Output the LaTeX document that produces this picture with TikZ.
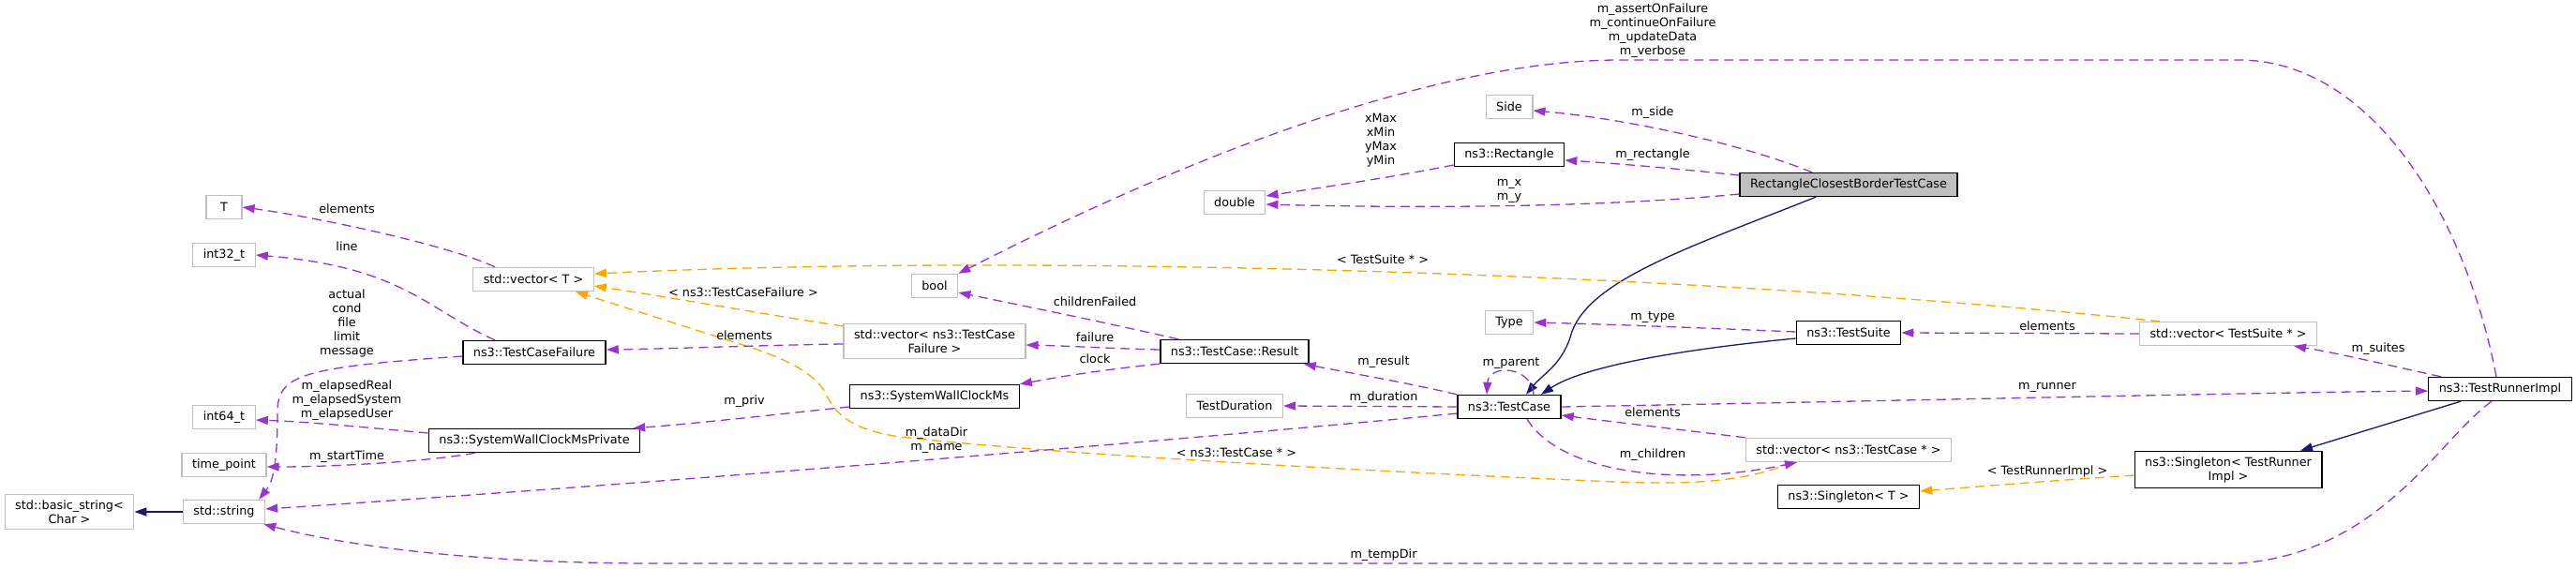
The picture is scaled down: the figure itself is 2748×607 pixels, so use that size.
\documentclass[tikz,border=0pt]{standalone}
\usepackage{fontspec}
\setmainfont{DejaVu Sans}
\usetikzlibrary{arrows.meta}

\definecolor{usecol}{HTML}{9A32CD}
\definecolor{tplcol}{HTML}{FFA500}
\definecolor{inhcol}{HTML}{191970}
\definecolor{extcol}{HTML}{BFBFBF}

\tikzset{
 box/.style={rectangle, draw=black, fill=white, line width=1.3pt, inner xsep=11pt, inner ysep=6pt, minimum height=25pt, align=center, font=\fontsize{12.8}{15}\selectfont},
 extbox/.style={box, draw=extcol},
 selfbox/.style={box, fill=extcol},
 lbl/.style={inner sep=0pt, align=center, font=\fontsize{12.8}{15}\selectfont},
 usage/.style={usecol, line width=1.3pt, dash pattern=on 10pt off 6pt, -{Triangle[length=13pt,width=9pt]}},
 tmpl/.style={usage, tplcol},
 inherit/.style={inhcol, line width=1.3pt, -{Triangle[length=13pt,width=9pt]}}
}

\begin{document}
\begin{tikzpicture}[x=1pt,y=-1pt]
 \useasboundingbox (0,0) rectangle (2748,607);
 \node[extbox] (bstr) at (74,546) {std::basic\_string<\\Char >}; %基底
 \node[extbox] (str) at (239,546) {std::string};
 \node[extbox] (tpt) at (239,496) {time\_point};
 \node[extbox] (i64) at (239,445) {int64\_t};
 \node[extbox] (i32) at (239,272) {int32\_t};
 \node[extbox, minimum width=38pt] (tT) at (239,221) {T};
 \node[extbox] (vecT) at (569,298) {std::vector< T >}; %テンプレート
 \node[box] (tcf) at (570,376) {ns3::TestCaseFailure};
 \node[box] (swcp) at (570,470) {ns3::SystemWallClockMsPrivate};
 \node[extbox] (bool) at (997,305) {bool};
 \node[extbox] (vecF) at (997,364) {std::vector< ns3::TestCase\\Failure >};
 \node[box] (swc) at (997,423) {ns3::SystemWallClockMs};
 \node[extbox] (dbl) at (1317,216) {double};
 \node[box] (res) at (1317,375) {ns3::TestCase::Result};
 \node[extbox] (dur) at (1317,433) {TestDuration};
 \node[extbox] (side) at (1610,114) {Side};
 \node[box] (rect) at (1610,165) {ns3::Rectangle};
 \node[extbox] (type) at (1610,344) {Type};
 \node[box] (tc) at (1610,434) {ns3::TestCase};
 \node[selfbox] (main) at (1972,197) {RectangleClosestBorderTestCase}; %本体
 \node[box] (suite) at (1972,355) {ns3::TestSuite};
 \node[extbox] (vecC) at (1972,480) {std::vector< ns3::TestCase * >};
 \node[box] (sglT) at (1972,530) {ns3::Singleton< T >};
 \node[extbox] (vecS) at (2377,356) {std::vector< TestSuite * >};
 \node[box] (sglR) at (2377,501) {ns3::Singleton< TestRunner\\Impl >};
 \node[box] (runner) at (2667,415) {ns3::TestRunnerImpl};

 % 継承
 \draw[inherit] (str.west) -- (bstr.east);
 \draw[inherit] ([xshift=-35pt]main.south) .. controls (1800,265) and (1690,300) .. (1675,360) .. controls (1665,390) and (1645,400) .. ([xshift=18pt]tc.north);
 \draw[inherit] ([yshift=-6pt]suite.west) .. controls (1800,372) and (1690,390) .. ([xshift=34pt]tc.north);
 \draw[inherit] ([xshift=-42pt]runner.south) -- ([xshift=77pt]sglR.north);

 % テンプレート
 \draw[tmpl] ([yshift=16pt]vecF.west) .. controls (820,336) and (720,318) .. ([yshift=-7pt]vecT.east);
 \draw[tmpl] ([xshift=-73pt]vecS.north) .. controls (1800,290) and (1100,270) .. ([yshift=6pt]vecT.east);
 \draw[tmpl] ([xshift=-60pt]vecC.south) .. controls (1860,515) and (1800,518) .. (1700,513) .. controls (1400,500) and (1100,482) .. (960,466) .. controls (905,458) and (890,440) .. (880,418) .. controls (868,398) and (840,384) .. (805,372) -- ([xshift=45pt]vecT.south);
 \draw[tmpl] ([yshift=-6pt]sglR.west) .. controls (2200,512) and (2110,519) .. ([yshift=6pt]sglT.east);

 % 使用
 \draw[usage] ([xshift=-41pt]vecT.north) .. controls (480,262) and (340,232) .. (tT.east);
 \draw[usage] ([xshift=-42pt]tcf.north) .. controls (455,330) and (430,285) .. (i32.east);
 \draw[usage] ([yshift=-4pt]tcf.west) .. controls (320,392) and (296,400) .. (296,440) .. controls (296,500) and (290,515) .. ([xshift=-7pt]str.north east);
 \draw[usage] ([yshift=8pt]swcp.west) .. controls (390,456) and (330,450) .. ([yshift=-3pt]i64.east);
 \draw[usage] ([xshift=-63pt]swcp.south) .. controls (460,492) and (360,498) .. ([yshift=-2pt]tpt.east);
 \draw[usage] ([yshift=-3pt]vecF.west) .. controls (820,368) and (720,372) .. ([yshift=3pt]tcf.east);
 \draw[usage] ([yshift=-11pt]swc.west) .. controls (820,443) and (740,452) .. ([xshift=-8pt]swcp.north east);
 \draw[usage] ([xshift=-60pt]res.north) .. controls (1170,342) and (1100,328) .. ([yshift=-7pt]bool.east);
 \draw[usage] ([yshift=2pt]res.west) .. controls (1190,372) and (1140,369) .. ([yshift=-4pt]vecF.east);
 \draw[usage] (res.south west) .. controls (1190,393) and (1140,400) .. (swc.north east);
 \draw[usage] (tc.north west) .. controls (1500,408) and (1440,398) .. ([xshift=-6pt]res.south east);
 \draw[usage] (tc.west) -- (dur.east);
 \draw[usage] ([yshift=-7pt]tc.west) .. controls (1300,466) and (700,516) .. ([yshift=3pt]str.east);
 \draw[usage] ([xshift=26pt]tc.north) .. controls (1634,390) and (1588,388) .. ([xshift=-24pt]tc.north);
 \draw[usage] (tc.east) .. controls (2000,428) and (2400,419) .. ([yshift=-2pt]runner.west);
 \draw[usage] (vecC.north west) .. controls (1790,458) and (1720,450) .. ([yshift=-9pt]tc.east);
 \draw[usage] ([xshift=19pt]tc.south) .. controls (1665,505) and (1790,520) .. ([xshift=-55pt]vecC.south);
 \draw[usage] ([yshift=1pt]suite.west) .. controls (1820,350) and (1720,346) .. (type.east);
 \draw[usage] (vecS.west) -- (suite.east);
 \draw[usage] ([xshift=-63pt]runner.north) .. controls (2550,390) and (2490,376) .. ([xshift=70pt]vecS.south);
 \draw[usage] ([xshift=-4pt]runner.north) .. controls (2630,230) and (2530,64) .. (2388,64) -- (1728,64) .. controls (1550,64) and (1300,150) .. (bool.north east);
 \draw[usage] ([xshift=-9pt]runner.south) .. controls (2600,470) and (2540,590) .. (2388,601) -- (700,601) .. controls (520,601) and (380,585) .. ([xshift=-2pt]str.south east);
 \draw[usage] ([xshift=-39pt]main.north) .. controls (1850,150) and (1720,125) .. ([yshift=-4pt]side.east);
 \draw[usage] ([yshift=10pt]main.west) .. controls (1790,180) and (1720,174) .. ([yshift=-6pt]rect.east);
 \draw[usage] ([yshift=-10pt]main.west) .. controls (1700,222) and (1500,222) .. ([yshift=-2pt]dbl.east);
 \draw[usage] ([yshift=-11pt]rect.west) .. controls (1480,190) and (1410,200) .. ([yshift=7pt]dbl.east);

 % ラベル
 \node[lbl] (lElemT) at (370,223) {elements};
 \node[lbl] (lLine) at (370,263) {line};
 \node[lbl] (lFail) at (370,345) {actual\\cond\\file\\limit\\message};
 \node[lbl] (lElapsed) at (370,427) {m\_elapsedReal\\m\_elapsedSystem\\m\_elapsedUser};
 \node[lbl] (lStart) at (370,487) {m\_startTime};
 \node[lbl] (lTplF) at (793,312) {< ns3::TestCaseFailure >};
 \node[lbl] (lElemF) at (794,358) {elements};
 \node[lbl] (lPriv) at (794,428) {m\_priv};
 \node[lbl] (lDir) at (999,470) {m\_dataDir\\m\_name};
 \node[lbl] (lChild) at (1168,322) {childrenFailed};
 \node[lbl] (lFailure) at (1168,360) {failure};
 \node[lbl] (lClock) at (1168,383) {clock};
 \node[lbl] (lMinMax) at (1473,150) {xMax\\xMin\\yMax\\yMin};
 \node[lbl] (lXY) at (1610,204) {m\_x\\m\_y};
 \node[lbl] (lTplS) at (1475,277) {< TestSuite * >};
 \node[lbl] (lResult) at (1476,386) {m\_result};
 \node[lbl] (lDur) at (1476,424) {m\_duration};
 \node[lbl] (lTplC) at (1319,483) {< ns3::TestCase * >};
 \node[lbl] (lTemp) at (1476,592) {m\_tempDir};
 \node[lbl] (lParent) at (1612,388) {m\_parent};
 \node[lbl] (lFlags) at (1763,33) {m\_assertOnFailure\\m\_continueOnFailure\\m\_updateData\\m\_verbose};
 \node[lbl] (lSide) at (1763,120) {m\_side};
 \node[lbl] (lRect) at (1763,165) {m\_rectangle};
 \node[lbl] (lType) at (1763,339) {m\_type};
 \node[lbl] (lElemC) at (1763,440) {elements};
 \node[lbl] (lChildren) at (1763,485) {m\_children};
 \node[lbl] (lElemS) at (2184,348) {elements};
 \node[lbl] (lRunner) at (2184,413) {m\_runner};
 \node[lbl] (lTplR) at (2184,503) {< TestRunnerImpl >};
 \node[lbl] (lSuites) at (2537,372) {m\_suites};
\end{tikzpicture}
\end{document}
